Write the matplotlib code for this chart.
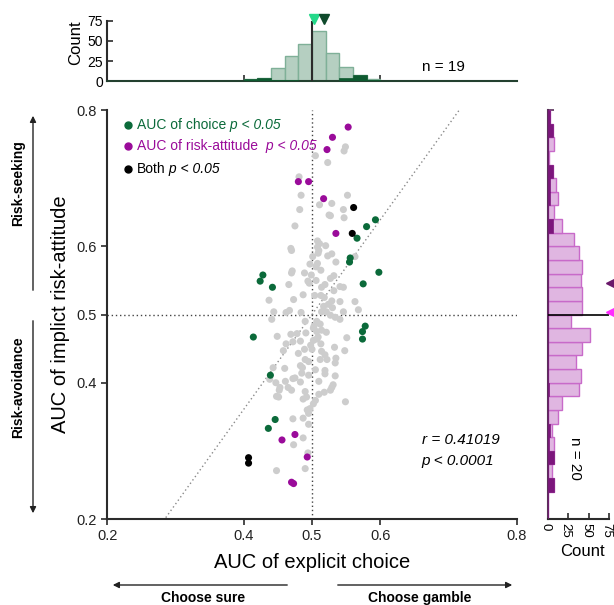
import matplotlib
matplotlib.use('Agg')
import matplotlib.pyplot as plt
import numpy as np

plt.rcParams['font.family'] = ['Liberation Sans', 'DejaVu Sans']

# ---------------- data ----------------
green_x = [0.428, 0.424, 0.442, 0.580, 0.593, 0.566, 0.556, 0.555, 0.598, 0.575,
           0.414, 0.439, 0.446, 0.436, 0.578, 0.574, 0.574]
green_y = [0.558, 0.549, 0.540, 0.629, 0.639, 0.612, 0.583, 0.577, 0.562, 0.545,
           0.467, 0.411, 0.346, 0.333, 0.483, 0.475, 0.464]
purple_x = [0.553, 0.530, 0.522, 0.480, 0.495, 0.517, 0.535, 0.475, 0.456, 0.493, 0.470, 0.473]
purple_y = [0.775, 0.760, 0.742, 0.695, 0.695, 0.670, 0.619, 0.324, 0.316, 0.291, 0.254, 0.252]
black_x = [0.561, 0.559, 0.407, 0.407]
black_y = [0.657, 0.619, 0.290, 0.282]

gray_x = [0.549, 0.547, 0.505, 0.523, 0.481, 0.484, 0.552, 0.511, 0.529, 0.482,
          0.546, 0.525, 0.527, 0.547, 0.475, 0.508, 0.511, 0.520, 0.508, 0.510,
          0.469, 0.470, 0.501, 0.509, 0.529, 0.523, 0.563, 0.508, 0.497, 0.506,
          0.535, 0.471, 0.470, 0.489, 0.499, 0.513, 0.532, 0.527, 0.494, 0.506,
          0.466, 0.496, 0.519, 0.514, 0.532, 0.546, 0.541, 0.504, 0.513, 0.518,
          0.487, 0.473, 0.437, 0.529, 0.541, 0.563,
          0.444, 0.462, 0.467, 0.484, 0.514, 0.521, 0.527, 0.534, 0.541, 0.546,
          0.568, 0.441, 0.507, 0.512, 0.502, 0.490, 0.514, 0.521, 0.507, 0.491,
          0.478, 0.469, 0.449, 0.551, 0.507, 0.502, 0.483, 0.472, 0.462, 0.513,
          0.500, 0.514, 0.519, 0.522, 0.533, 0.548, 0.480, 0.458, 0.489, 0.495,
          0.490, 0.512, 0.535, 0.534, 0.483, 0.486, 0.443, 0.460, 0.505, 0.519,
          0.519, 0.485, 0.495, 0.475, 0.472, 0.534, 0.447, 0.461, 0.483, 0.510,
          0.453, 0.465, 0.452, 0.470, 0.531, 0.529, 0.527, 0.518, 0.510, 0.490,
          0.451, 0.448, 0.492, 0.487, 0.505, 0.502, 0.549, 0.493, 0.497, 0.495,
          0.472, 0.487, 0.495, 0.487, 0.473, 0.494, 0.490, 0.448, 0.438,
          0.517, 0.524, 0.503, 0.509, 0.530, 0.498]
gray_y = [0.746, 0.740, 0.733, 0.723, 0.702, 0.675, 0.675, 0.661, 0.663, 0.654,
          0.654, 0.646, 0.645, 0.642, 0.630, 0.608, 0.604, 0.601, 0.599, 0.594,
          0.597, 0.594, 0.585, 0.590, 0.589, 0.586, 0.585, 0.575, 0.574, 0.570,
          0.577, 0.564, 0.561, 0.561, 0.558, 0.565, 0.557, 0.553, 0.549, 0.550,
          0.544, 0.546, 0.544, 0.540, 0.535, 0.540, 0.541, 0.528, 0.528, 0.525,
          0.529, 0.522, 0.521, 0.520, 0.519, 0.519,
          0.504, 0.503, 0.506, 0.503, 0.504, 0.504, 0.499, 0.496, 0.493, 0.504,
          0.507, 0.493, 0.490, 0.486, 0.480, 0.490, 0.477, 0.474, 0.475, 0.473,
          0.472, 0.471, 0.468, 0.466, 0.464, 0.462, 0.461, 0.460, 0.457, 0.457,
          0.449, 0.446, 0.441, 0.434, 0.452, 0.447, 0.443, 0.447, 0.449, 0.431,
          0.434, 0.434, 0.436, 0.429, 0.425, 0.422, 0.422, 0.421, 0.419, 0.418,
          0.413, 0.414, 0.411, 0.407, 0.406, 0.410, 0.400, 0.402, 0.401, 0.402,
          0.393, 0.393, 0.389, 0.389, 0.397, 0.393, 0.389, 0.386, 0.383, 0.387,
          0.379, 0.380, 0.379, 0.376, 0.374, 0.369, 0.372, 0.360, 0.362, 0.355,
          0.347, 0.348, 0.339, 0.319, 0.309, 0.297, 0.274, 0.271, 0.405,
          0.512, 0.515, 0.483, 0.467, 0.510, 0.455]

fit_slope = 1.39
fit_center = 0.5

main_ticks = [0.2, 0.4, 0.5, 0.6, 0.8]
main_ticklabels = ['0.2', '0.4', '0.5', '0.6', '0.8']

top_edges = [0.40, 0.42, 0.44, 0.46, 0.48, 0.50, 0.52, 0.54, 0.56, 0.58]
top_all = [2, 4, 16, 31, 46, 63, 35, 17, 7, 2]
top_sig = [2, 4, 1, 1, 0, 0, 0, 4, 7, 1]

right_edges = [0.20, 0.22, 0.24, 0.26, 0.28, 0.30, 0.32, 0.34, 0.36, 0.38,
               0.40, 0.42, 0.44, 0.46, 0.48, 0.50, 0.52, 0.54, 0.56, 0.58,
               0.60, 0.62, 0.64, 0.66, 0.68, 0.70, 0.72, 0.74, 0.76, 0.78]
right_all = [0, 0, 8, 5, 8, 8, 5, 13, 18, 38,
             40, 35, 42, 52, 28, 42, 42, 40, 42, 38,
             32, 18, 8, 13, 10, 6, 1, 8, 6, 3]
right_sig = [0, 0, 8, 0, 8, 2, 3, 0, 0, 1,
             0, 0, 0, 0, 0, 0, 0, 0, 0, 0,
             0, 6, 0, 3, 3, 6, 0, 0, 6, 3]

count_ticks = [0, 25, 50, 75]
top_markers_x = [0.503, 0.518]
right_markers_y = [0.547, 0.503]

# ---------------- colours ----------------
C_GREEN = '#0b6a3a'
C_PURPLE = '#9a0b9a'
C_GRAY = '#cdcdcd'
C_AX = '#2b2b2b'

fig = plt.figure(figsize=(6.14, 6.05), dpi=100)
ax = fig.add_axes([0.1748, 0.1421, 0.6667, 0.6760])
axt = fig.add_axes([0.1748, 0.8661, 0.6667, 0.0992])
axr = fig.add_axes([0.892, 0.1421, 0.1003, 0.6760])

# ---------------- main scatter ----------------
ax.axvline(0.5, ls=(0, (1, 2)), color='#444444', lw=1, zorder=1)
ax.axhline(0.5, ls=(0, (1, 2)), color='#444444', lw=1, zorder=1)
xs = np.array([0.2, 0.8])
ax.plot(xs, fit_center + fit_slope * (xs - fit_center), ls=(0, (1, 2)),
        color='#8a8a8a', lw=1, zorder=1)
ax.scatter(gray_x, gray_y, s=26, c=C_GRAY, edgecolors='none', zorder=2)
ax.scatter(green_x, green_y, s=26, c=C_GREEN, edgecolors='none', zorder=3)
ax.scatter(purple_x, purple_y, s=26, c=C_PURPLE, edgecolors='none', zorder=3)
ax.scatter(black_x, black_y, s=26, c='black', edgecolors='none', zorder=3)

ax.set_xlim(0.2, 0.8)
ax.set_ylim(0.2, 0.8)
ax.set_xticks(main_ticks)
ax.set_xticklabels(main_ticklabels)
ax.set_yticks(main_ticks)
ax.set_yticklabels(main_ticklabels)
for s in ['top', 'right']:
    ax.spines[s].set_visible(False)
for s in ['left', 'bottom']:
    ax.spines[s].set_color(C_AX)
    ax.spines[s].set_linewidth(1.5)
ax.tick_params(length=4, width=1.2, color=C_AX, labelsize=10.5, labelcolor='#222222')
ax.set_xlabel('AUC of explicit choice', fontsize=14.5, labelpad=7)
ax.set_ylabel('AUC of implict risk-attitude', fontsize=14.5, labelpad=5)

# legend-like annotations
leg = [('AUC of choice', C_GREEN, C_GREEN, 0.963),
       ('AUC of risk-attitude ', C_PURPLE, C_PURPLE, 0.913),
       ('Both', 'black', 'black', 0.857)]
for label, mc, tc, yy in leg:
    ax.plot([0.05], [yy], 'o', ms=5, color=mc, transform=ax.transAxes, clip_on=False)
    t1 = ax.text(0.072, yy, label, color=tc, fontsize=10, va='center',
                 ha='left', transform=ax.transAxes)
    ax.annotate(' p < 0.05', xy=(1, 0.5), xycoords=t1, va='center', ha='left',
                color=tc, fontsize=10, style='italic')

ax.text(0.661, 0.316, 'r = 0.41019', style='italic', fontsize=11, va='center')
ax.text(0.661, 0.285, 'p < 0.0001', style='italic', fontsize=11, va='center')

# ---------------- top histogram ----------------
axt.bar(top_edges, top_all, width=0.02, align='edge', color='#b5cfc1',
        edgecolor='#7fb098', lw=1, zorder=2)
axt.bar(top_edges, top_sig, width=0.02, align='edge', color='#0e5a30',
        edgecolor='#0e5a30', lw=0.5, zorder=3)
axt.plot([0.5, 0.5], [0, 75], color=C_AX, lw=1.5, zorder=4)
axt.plot([top_markers_x[0]], [78], 'v', ms=6.5, color='#25d98a', clip_on=False, zorder=5)
axt.plot([top_markers_x[1]], [78], 'v', ms=6.5, color='#0f4a2c', clip_on=False, zorder=5)
axt.set_xlim(0.2, 0.8)
axt.set_ylim(0, 75)
axt.set_yticks(count_ticks)
axt.set_xticks([0.4, 0.6])
axt.set_xticklabels([])
axt.tick_params(axis='x', direction='in', length=4, width=1.2, color=C_AX)
axt.tick_params(axis='y', direction='in', length=4, width=1.2, color=C_AX,
                labelsize=10, pad=3)
for s in ['top', 'right']:
    axt.spines[s].set_visible(False)
axt.spines['left'].set_color(C_AX)
axt.spines['left'].set_linewidth(1.5)
axt.spines['bottom'].set_color('#23402f')
axt.spines['bottom'].set_linewidth(1.5)
axt.text(0.661, 17, 'n = 19', fontsize=11, va='center', ha='left')
fig.text(76 / 614, 1 - 43 / 605, 'Count', rotation=90, ha='center', va='center',
         fontsize=12)

# ---------------- right histogram ----------------
axr.barh(right_edges, right_all, height=0.02, align='edge', color='#e0b6e1',
         edgecolor='#c86ac9', lw=1, zorder=2)
axr.barh(right_edges, right_sig, height=0.02, align='edge', color='#7c167c',
         edgecolor='#7c167c', lw=0.5, zorder=3)
axr.plot([0, 75], [0.5, 0.5], color='black', lw=1.2, zorder=4)
axr.plot([77.5], [right_markers_y[0]], '<', ms=6.5, color='#6a186a', clip_on=False, zorder=5)
axr.plot([77.5], [right_markers_y[1]], '<', ms=6.5, color='#ff2cff', clip_on=False, zorder=5)
axr.set_ylim(0.2, 0.8)
axr.set_xlim(0, 75)
axr.set_xticks(count_ticks)
axr.set_xticklabels([])
for v in count_ticks:
    axr.annotate(str(v), xy=(v, 0), xycoords=('data', 'axes fraction'),
                 xytext=(-1.8, -3), textcoords='offset points', rotation=-90,
                 ha='center', va='top', fontsize=9.5, annotation_clip=False)
axr.set_yticks([0.8])
axr.set_yticklabels([])
axr.tick_params(axis='y', direction='in', length=4, width=1.2, color='#5a305a')
axr.tick_params(axis='x', direction='in', length=4, width=1.2, color=C_AX)
for s in ['top', 'right']:
    axr.spines[s].set_visible(False)
axr.spines['left'].set_color('#5a305a')
axr.spines['left'].set_linewidth(1.5)
axr.spines['bottom'].set_color(C_AX)
axr.spines['bottom'].set_linewidth(1.5)
axr.text(33, 0.289, 'n = 20', rotation=-90, fontsize=11, ha='center', va='center')
fig.text(582 / 614, 1 - 552 / 605, 'Count', ha='center', va='center', fontsize=12)

# ---------------- direction arrows ----------------
def farrow(x0, y0, x1, y1):
    fig.add_artist(matplotlib.patches.FancyArrowPatch(
        (x0 / 614, 1 - y0 / 605), (x1 / 614, 1 - y1 / 605),
        transform=fig.transFigure, arrowstyle='-|>', mutation_scale=9,
        color='#222222', lw=1))

farrow(33, 293, 33, 113)
farrow(33, 318, 33, 516)
farrow(290, 585, 110, 585)
farrow(335, 585, 515, 585)

fig.text(18 / 614, 1 - 183 / 605, 'Risk-seeking', rotation=90, ha='center',
         va='center', fontsize=10, fontweight='bold')
fig.text(18 / 614, 1 - 387 / 605, 'Risk-avoidance', rotation=90, ha='center',
         va='center', fontsize=10, fontweight='bold')
fig.text(203 / 614, 1 - 598 / 605, 'Choose sure', ha='center', va='center',
         fontsize=10, fontweight='bold')
fig.text(420 / 614, 1 - 598 / 605, 'Choose gamble', ha='center', va='center',
         fontsize=10, fontweight='bold')

fig.savefig('out.png', dpi=100)
